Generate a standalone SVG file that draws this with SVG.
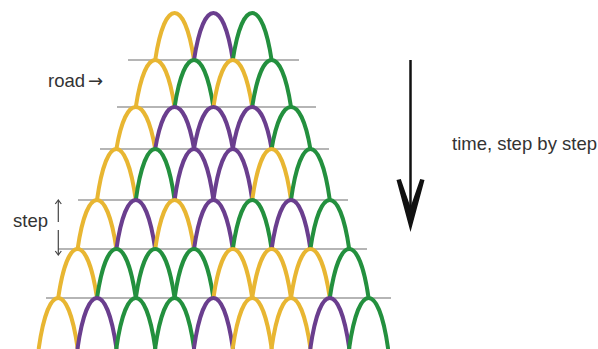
<svg xmlns="http://www.w3.org/2000/svg" width="598" height="349" viewBox="0 0 598 349">
<style>
.road{stroke:#9c9c9c;stroke-width:1.5;fill:none}
.a{fill:none;stroke-width:4;stroke-linecap:round;stroke-linejoin:round}
.y{stroke:#E8B632}
.p{stroke:#6A3E8E}
.g{stroke:#23903E}
.t{font-family:"Liberation Sans",Arial,sans-serif;font-size:18.5px;fill:#333}
.thin{stroke:#444;stroke-width:1.2;fill:none}
</style>
<defs>
<marker id="sm" viewBox="0 0 8 8" refX="4" refY="4" markerWidth="8" markerHeight="8" markerUnits="userSpaceOnUse" orient="auto">
<path d="M1,1 L5,4 L1,7" fill="none" stroke="#444" stroke-width="1.2"/>
</marker>
</defs>
<rect width="598" height="349" fill="#fff"/>
<g id="roads">
<line class="road" x1="128" y1="60" x2="299" y2="60"/>
<line class="road" x1="117" y1="107" x2="316" y2="107"/>
<line class="road" x1="100" y1="149" x2="329" y2="149"/>
<line class="road" x1="78" y1="200" x2="348" y2="200"/>
<line class="road" x1="58" y1="249" x2="367" y2="249"/>
<line class="road" x1="46" y1="298" x2="391" y2="298"/>
</g>
<g id="row1">
<path class="a y" d="M155.2,60 c9.5,-62.7 29.3,-62.7 38.8,0"/>
<path class="a p" d="M194,60 c9.5,-62.7 29.3,-62.7 38.8,0"/>
<path class="a g" d="M232.8,60 c9.5,-62.7 29.3,-62.7 38.8,0"/>
</g>
<g id="row2">
<path class="a y" d="M135.8,107 c9.5,-62.7 29.3,-62.7 38.8,0"/>
<path class="a g" d="M174.6,107 c9.5,-62.7 29.3,-62.7 38.8,0"/>
<path class="a y" d="M213.4,107 c9.5,-62.7 29.3,-62.7 38.8,0"/>
<path class="a g" d="M252.2,107 c9.5,-62.7 29.3,-62.7 38.8,0"/>
</g>
<g id="row3">
<path class="a y" d="M116.4,149 c9.5,-56 29.3,-56 38.8,0"/>
<path class="a p" d="M155.2,149 c9.5,-56 29.3,-56 38.8,0"/>
<path class="a p" d="M194,149 c9.5,-56 29.3,-56 38.8,0"/>
<path class="a p" d="M232.8,149 c9.5,-56 29.3,-56 38.8,0"/>
<path class="a g" d="M271.6,149 c9.5,-56 29.3,-56 38.8,0"/>
</g>
<g id="row4">
<path class="a y" d="M97,200 c9.5,-68 29.3,-68 38.8,0"/>
<path class="a g" d="M135.8,200 c9.5,-68 29.3,-68 38.8,0"/>
<path class="a p" d="M174.6,200 c9.5,-68 29.3,-68 38.8,0"/>
<path class="a p" d="M213.4,200 c9.5,-68 29.3,-68 38.8,0"/>
<path class="a y" d="M252.2,200 c9.5,-68 29.3,-68 38.8,0"/>
<path class="a g" d="M291,200 c9.5,-68 29.3,-68 38.8,0"/>
</g>
<g id="row5">
<path class="a y" d="M77.6,249 c9.5,-65.3 29.3,-65.3 38.8,0"/>
<path class="a p" d="M116.4,249 c9.5,-65.3 29.3,-65.3 38.8,0"/>
<path class="a y" d="M155.2,249 c9.5,-65.3 29.3,-65.3 38.8,0"/>
<path class="a p" d="M194,249 c9.5,-65.3 29.3,-65.3 38.8,0"/>
<path class="a g" d="M232.8,249 c9.5,-65.3 29.3,-65.3 38.8,0"/>
<path class="a p" d="M271.6,249 c9.5,-65.3 29.3,-65.3 38.8,0"/>
<path class="a g" d="M310.4,249 c9.5,-65.3 29.3,-65.3 38.8,0"/>
</g>
<g id="row6">
<path class="a y" d="M58.2,298 c9.5,-65.3 29.3,-65.3 38.8,0"/>
<path class="a g" d="M97,298 c9.5,-65.3 29.3,-65.3 38.8,0"/>
<path class="a g" d="M135.8,298 c9.5,-65.3 29.3,-65.3 38.8,0"/>
<path class="a g" d="M174.6,298 c9.5,-65.3 29.3,-65.3 38.8,0"/>
<path class="a y" d="M213.4,298 c9.5,-65.3 29.3,-65.3 38.8,0"/>
<path class="a y" d="M252.2,298 c9.5,-65.3 29.3,-65.3 38.8,0"/>
<path class="a y" d="M291,298 c9.5,-65.3 29.3,-65.3 38.8,0"/>
<path class="a g" d="M329.8,298 c9.5,-65.3 29.3,-65.3 38.8,0"/>
</g>
<g id="row7">
<path class="a y" d="M38.8,348 c9.5,-66.7 29.3,-66.7 38.8,0"/>
<path class="a p" d="M77.6,348 c9.5,-66.7 29.3,-66.7 38.8,0"/>
<path class="a g" d="M116.4,348 c9.5,-66.7 29.3,-66.7 38.8,0"/>
<path class="a g" d="M155.2,348 c9.5,-66.7 29.3,-66.7 38.8,0"/>
<path class="a p" d="M194,348 c9.5,-66.7 29.3,-66.7 38.8,0"/>
<path class="a y" d="M232.8,348 c9.5,-66.7 29.3,-66.7 38.8,0"/>
<path class="a y" d="M271.6,348 c9.5,-66.7 29.3,-66.7 38.8,0"/>
<path class="a p" d="M310.4,348 c9.5,-66.7 29.3,-66.7 38.8,0"/>
<path class="a g" d="M349.2,348 c9.5,-66.7 29.3,-66.7 38.8,0"/>
</g>
<g id="road-label">
<text class="t" x="48" y="87">road<tspan font-family="DejaVu Sans, sans-serif" font-size="18" dx="3">→</tspan></text>
</g>
<g id="step-label">
<text class="t" x="13" y="227">step</text>
<line class="thin" x1="58.3" y1="222" x2="58.3" y2="201" marker-end="url(#sm)"/>
<line class="thin" x1="58.3" y1="230" x2="58.3" y2="254" marker-end="url(#sm)"/>
</g>
<g id="time-arrow">
<line x1="410.5" y1="60" x2="410.5" y2="215" stroke="#111" stroke-width="2.5"/>
<path d="M410.5,232 L396.5,180 L400.8,179 L410.5,207 L420.2,179 L424.5,180 Z" fill="#111"/>
</g>
<g id="time-label">
<text class="t" x="452" y="150">time, step by step</text>
</g>
</svg>
